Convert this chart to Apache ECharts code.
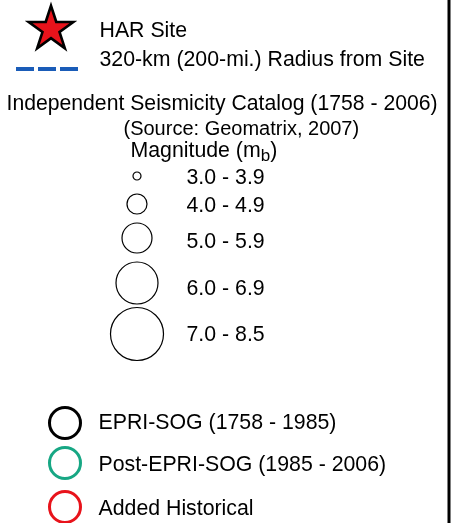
<!DOCTYPE html>
<html>
<head>
<meta charset="utf-8">
<script src="https://cdn.jsdelivr.net/npm/echarts@6/dist/echarts.min.js"></script>
<style>
html,body{margin:0;padding:0;background:#fff;}
#chart{width:455px;height:523px;}
</style>
</head>
<body>
<div id="chart"></div>
<script>
// ---- legend content ----
const siteLabels = ['HAR Site', '320-km (200-mi.) Radius from Site'];
const catalogTitle = ['Independent Seismicity Catalog (1758 - 2006)', '(Source: Geomatrix, 2007)'];
const magnitudeTitle = 'Magnitude (m';
const magnitudeSub = 'b';
const magnitudeBins = ['3.0 - 3.9', '4.0 - 4.9', '5.0 - 5.9', '6.0 - 6.9', '7.0 - 8.5'];
const magnitudeDiameters = [8, 20, 30, 42, 53];
const catalogs = ['EPRI-SOG (1758 - 1985)', 'Post-EPRI-SOG (1985 - 2006)', 'Added Historical'];
const catalogColors = ['#000000', '#17a784', '#e8131b'];

// ---- layout (pixel space of the hidden axes) ----
const W = 455, H = 523;
const FONT = 'Liberation Sans, Arial, sans-serif';
const FS = 21.3;
const titleFS = [21.2, 20];
const starPos = [51, 27];
const dashY = 69, dashX = [16, 82];
const siteTextX = 99, siteTextY = [31, 60];
const titleX = [6, 123], titleY = [104, 129];
const magTitlePos = [130, 151];
const circleX = 137, circleY = [176, 204, 238, 283, 334];
const binX = 186, binY = [178, 206, 242, 289, 335];
const catCircleX = 65, catCircleY = [423, 463, 507];
const catTextX = 98, catTextY = [423, 465, 509];
const borderX = 449;

function starPath() {
  const pts = [];
  for (let k = 0; k < 10; k++) {
    const a = (-90 + 36 * k) * Math.PI / 180;
    const r = k % 2 ? 0.382 : 1;
    pts.push((Math.cos(a) * r * 100).toFixed(2) + ' ' + (Math.sin(a) * r * 100).toFixed(2));
  }
  return 'path://M' + pts.join(' L') + ' Z';
}

function textSeries(points, opts) {
  return {
    type: 'scatter', symbolSize: 1, silent: true,
    itemStyle: { color: 'rgba(0,0,0,0)', opacity: 1 },
    data: points.map(p => ({ value: [p[0], p[1]], name: p[2], label: p[3] ? { fontSize: p[3] } : undefined })),
    label: Object.assign({
      show: true, position: 'right', distance: 0, opacity: 1,
      formatter: prm => prm.name,
      color: '#000', fontFamily: FONT, fontSize: FS,
      align: 'left', verticalAlign: 'middle'
    }, opts || {})
  };
}

const series = [];
// star
series.push({
  type: 'scatter', silent: true,
  symbol: starPath(), symbolSize: [44.7, 42.5], symbolKeepAspect: false,
  itemStyle: { color: '#e8131b', borderColor: '#000', borderWidth: 2.6, opacity: 1 },
  data: [starPos]
});
// dashed radius line
series.push({
  type: 'line', silent: true, symbol: 'none',
  lineStyle: { color: '#1a5cb8', width: 4, type: [18, 4], cap: 'butt', opacity: 1 },
  data: [[dashX[0], dashY], [dashX[1], dashY]]
});
// right border
series.push({
  type: 'line', silent: true, symbol: 'none',
  lineStyle: { color: '#000', width: 3, opacity: 1 },
  data: [[borderX, 0], [borderX, H]]
});
// site texts
series.push(textSeries(siteLabels.map((t, i) => [siteTextX, siteTextY[i], t])));
// catalog title
series.push(textSeries(catalogTitle.map((t, i) => [titleX[i], titleY[i], t, titleFS[i]])));
// magnitude title with subscript
series.push(textSeries([[magTitlePos[0], magTitlePos[1], 'x']], {
  formatter: magnitudeTitle + '{sub|' + magnitudeSub + '}' + ')',
  rich: { sub: { fontSize: 17, fontFamily: FONT, color: '#000', padding: [10, 0, 0, 0] } }
}));
// magnitude circles
series.push({
  type: 'scatter', silent: true, symbol: 'circle',
  symbolSize: (v, p) => magnitudeDiameters[p.dataIndex],
  itemStyle: { color: 'rgba(0,0,0,0)', borderColor: '#000', borderWidth: 1.2, opacity: 1 },
  data: circleY.map(y => [circleX, y])
});
series.push(textSeries(magnitudeBins.map((t, i) => [binX, binY[i], t])));
// catalog circles
series.push({
  type: 'scatter', silent: true, symbol: 'circle', symbolSize: 31,
  itemStyle: { color: 'rgba(0,0,0,0)', borderWidth: 3, opacity: 1 },
  data: catCircleY.map((y, i) => ({ value: [catCircleX, y], itemStyle: { borderColor: catalogColors[i], opacity: 1 } }))
});
series.push(textSeries(catalogs.map((t, i) => [catTextX, catTextY[i], t])));

const chart = echarts.init(document.getElementById('chart'), null, { renderer: 'canvas' });
chart.setOption({
  animation: false,
  backgroundColor: '#fff',
  grid: { left: 0, right: 0, top: 0, bottom: 0 },
  xAxis: { type: 'value', min: 0, max: W, show: false },
  yAxis: { type: 'value', min: 0, max: H, inverse: true, show: false },
  series: series
});
</script>
</body>
</html>
